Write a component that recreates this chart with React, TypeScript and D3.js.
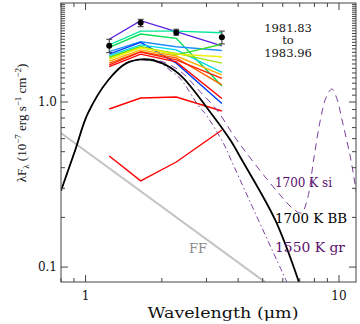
import React from 'react';
import * as d3 from 'd3';

// photometric bands (micron)
const bandLambda = [1.24, 1.65, 2.28, 3.45];

// one SED per epoch, values at J H K L
const epochColors = [
  '#5a1ee0', '#00e89a', '#00e050', '#1e90ff', '#0040ff', '#00d8e8', '#40e020',
  '#a0e000', '#f0f000', '#ffb000', '#ff6000', '#ff2000', '#ff0000', '#ff0000', '#ff0000',
];
const epochFlux = [
  [2.40, 3.11, 2.67, 2.19],
  [2.22, 2.69, 2.69, 2.63],
  [2.14, 2.58, 2.43, 1.25],
  [2.02, 2.32, 2.16, 2.05],
  [1.95, 2.30, 1.72, 0.98],
  [1.91, 2.22, 2.07, 1.51],
  [1.87, 2.17, 1.93, 2.24],
  [1.85, 2.15, 1.97, 1.72],
  [1.82, 2.13, 1.95, 1.88],
  [1.77, 2.07, 1.90, 1.46],
  [1.72, 2.02, 1.85, 1.27],
  [1.68, 2.01, 1.80, 1.39],
  [1.64, 1.95, 1.75, 1.05],
  [0.907, 1.057, 1.072, 0.882],
  [0.471, 0.333, 0.433, 0.677],
];

// mean photometry with error bars
const photFlux = [2.19, 3.02, 2.64, 2.47];
const photLo = [1.99, 2.86, 2.54, 2.25];
const photHi = [2.40, 3.17, 2.76, 2.69];

// 1700 K blackbody
const bbLambda = [0.8, 0.91, 1.02, 1.23, 1.45, 1.68, 1.97, 2.36, 3.1, 3.72, 4.14, 5.6, 6.95];
const bbFlux = [0.29, 0.51, 0.85, 1.36, 1.72, 1.815, 1.74, 1.46, 0.87, 0.59, 0.445, 0.193, 0.081];

// 1700 K silicate
const siLambda = [0.8, 0.91, 1.02, 1.23, 1.45, 1.68, 1.97, 2.36, 2.83, 3.3, 3.83, 4.53, 5.86, 6.54, 7.1,
  7.49, 7.94, 8.44, 8.91, 9.38, 9.85, 10.28, 11.08, 11.7];
const siFlux = [0.29, 0.51, 0.85, 1.36, 1.72, 1.815, 1.77, 1.54, 1.155, 0.894, 0.631, 0.445, 0.273, 0.228, 0.2125,
  0.255, 0.445, 0.778, 1.072, 1.199, 1.028, 0.778, 0.466, 0.285];

// 1550 K graphite
const grLambda = [0.8, 0.91, 1.02, 1.23, 1.45, 1.68, 1.97, 2.19, 2.36, 2.83, 2.96, 3.5, 3.72, 4.46, 6.23];
const grFlux = [0.29, 0.51, 0.85, 1.36, 1.72, 1.80, 1.716, 1.526, 1.392, 0.92, 0.854, 0.562, 0.458, 0.248, 0.081];

// free-free
const ffLambda = [0.8, 5.11];
const ffFlux = [0.649, 0.081];

const W = 360, H = 324;
const L = 61, R = 356, T = 3, B = 282;
const FONT = 'DejaVu Serif';
const TIMES = 'Liberation Serif';
const PURPLE = '#7d3f9f';
const PURPLE_TXT = '#5c0f6e';

export default function App() {
  const x = d3.scaleLog().domain([0.8, 11.67]).range([L, R]);
  const y = d3.scaleLog().domain([0.0812, 3.98]).range([B, T]);

  const pts = (xs: number[], ys: number[]) => xs.map((v, i) => [v, ys[i]] as [number, number]);
  const straight = d3.line<[number, number]>().x(d => x(d[0])).y(d => y(d[1]));
  const smooth = d3.line<[number, number]>().x(d => x(d[0])).y(d => y(d[1])).curve(d3.curveCatmullRom);

  const isMajor = (v: number) => Math.abs(Math.log10(v) - Math.round(Math.log10(v))) < 1e-6;
  const xTicks = x.ticks(20);
  const yTicks = y.ticks(30);

  return (
    <svg width={W} height={H} style={{ position: 'absolute', left: 0, top: 0 }} fontFamily={FONT}>
      <defs>
        <clipPath id="plot">
          <rect x={L} y={T} width={R - L} height={B - T} />
        </clipPath>
      </defs>
      <rect width={W} height={H} fill="#fff" />

      <g clipPath="url(#plot)">
        <path d={straight(pts(ffLambda, ffFlux)) || ''} fill="none" stroke="#c4c4c4" strokeWidth={2} />
        {epochFlux.map((f, i) => (
          <path key={i} d={straight(pts(bandLambda, f)) || ''} fill="none" stroke={epochColors[i]} strokeWidth={1.4} />
        ))}
        <path d={smooth(pts(siLambda, siFlux)) || ''} fill="none" stroke={PURPLE} strokeWidth={1} strokeDasharray="7,5" />
        <path d={smooth(pts(grLambda, grFlux)) || ''} fill="none" stroke={PURPLE} strokeWidth={1} strokeDasharray="6,3,1.5,3" />
        <path d={smooth(pts(bbLambda, bbFlux)) || ''} fill="none" stroke="#000" strokeWidth={1.8} />
        {bandLambda.map((l, i) => (
          <g key={i} stroke="#333" strokeWidth={1}>
            <line x1={x(l)} x2={x(l)} y1={y(photLo[i])} y2={y(photHi[i])} />
            <line x1={x(l) - 3} x2={x(l) + 3} y1={y(photLo[i])} y2={y(photLo[i])} />
            <line x1={x(l) - 3} x2={x(l) + 3} y1={y(photHi[i])} y2={y(photHi[i])} />
            <circle cx={x(l)} cy={y(photFlux[i])} r={3} fill="#000" stroke="none" />
          </g>
        ))}
      </g>

      {/* frame and ticks */}
      <g stroke="#444" strokeWidth={1} fill="none">
        <rect x={L} y={T} width={R - L} height={B - T} />
        {xTicks.map((t, i) => {
          const len = isMajor(t) ? 7 : 4;
          return (
            <g key={'x' + i}>
              <line x1={x(t)} x2={x(t)} y1={B} y2={B - len} />
              <line x1={x(t)} x2={x(t)} y1={T} y2={T + len} />
            </g>
          );
        })}
        {yTicks.map((t, i) => {
          const len = isMajor(t) ? 7 : 4;
          return (
            <g key={'y' + i}>
              <line x1={L} x2={L + len} y1={y(t)} y2={y(t)} />
              <line x1={R} x2={R - len} y1={y(t)} y2={y(t)} />
            </g>
          );
        })}
      </g>

      {/* tick labels */}
      <g fontSize={12} fill="#111">
        {xTicks.filter(isMajor).map((t, i) => (
          <text key={i} x={x(t)} y={300} textAnchor="middle">{t}</text>
        ))}
        {yTicks.filter(isMajor).map((t, i) => (
          <text key={i} x={L - 4} y={y(t) + 4} textAnchor="end">{t.toFixed(1)}</text>
        ))}
      </g>

      <text x={223} y={318} textAnchor="middle" fontSize={14} fill="#111" textLength={151} lengthAdjust="spacingAndGlyphs">
        Wavelength (μm)
      </text>

      <text transform="translate(26,123) rotate(-90)" textAnchor="middle" fontSize={13} fill="#111" fontFamily={TIMES}>
        λF<tspan fontSize={9} dy={3}>λ</tspan>
        <tspan dy={-3}> (10</tspan><tspan fontSize={9} dy={-5}>−7</tspan>
        <tspan dy={5}> erg s</tspan><tspan fontSize={9} dy={-5}>−1</tspan>
        <tspan dy={5}> cm</tspan><tspan fontSize={9} dy={-5}>−2</tspan>
        <tspan dy={5}>)</tspan>
      </text>

      <g fontSize={11.5} textAnchor="middle" fill="#111">
        <text x={288} y={31.5}>1981.83</text>
        <text x={288} y={44}>to</text>
        <text x={288} y={56.5}>1983.96</text>
      </g>

      <g fontSize={12.5}>
        <text x={275} y={187} fill={PURPLE_TXT} textLength={57} lengthAdjust="spacingAndGlyphs">1700 K si</text>
        <text x={275} y={223} fill="#000" textLength={72} lengthAdjust="spacingAndGlyphs">1700 K BB</text>
        <text x={275} y={252} fill={PURPLE_TXT} textLength={70} lengthAdjust="spacingAndGlyphs">1550 K gr</text>
        <text x={189} y={253} fill="#8c8c8c" fontSize={13}>FF</text>
      </g>
    </svg>
  );
}
